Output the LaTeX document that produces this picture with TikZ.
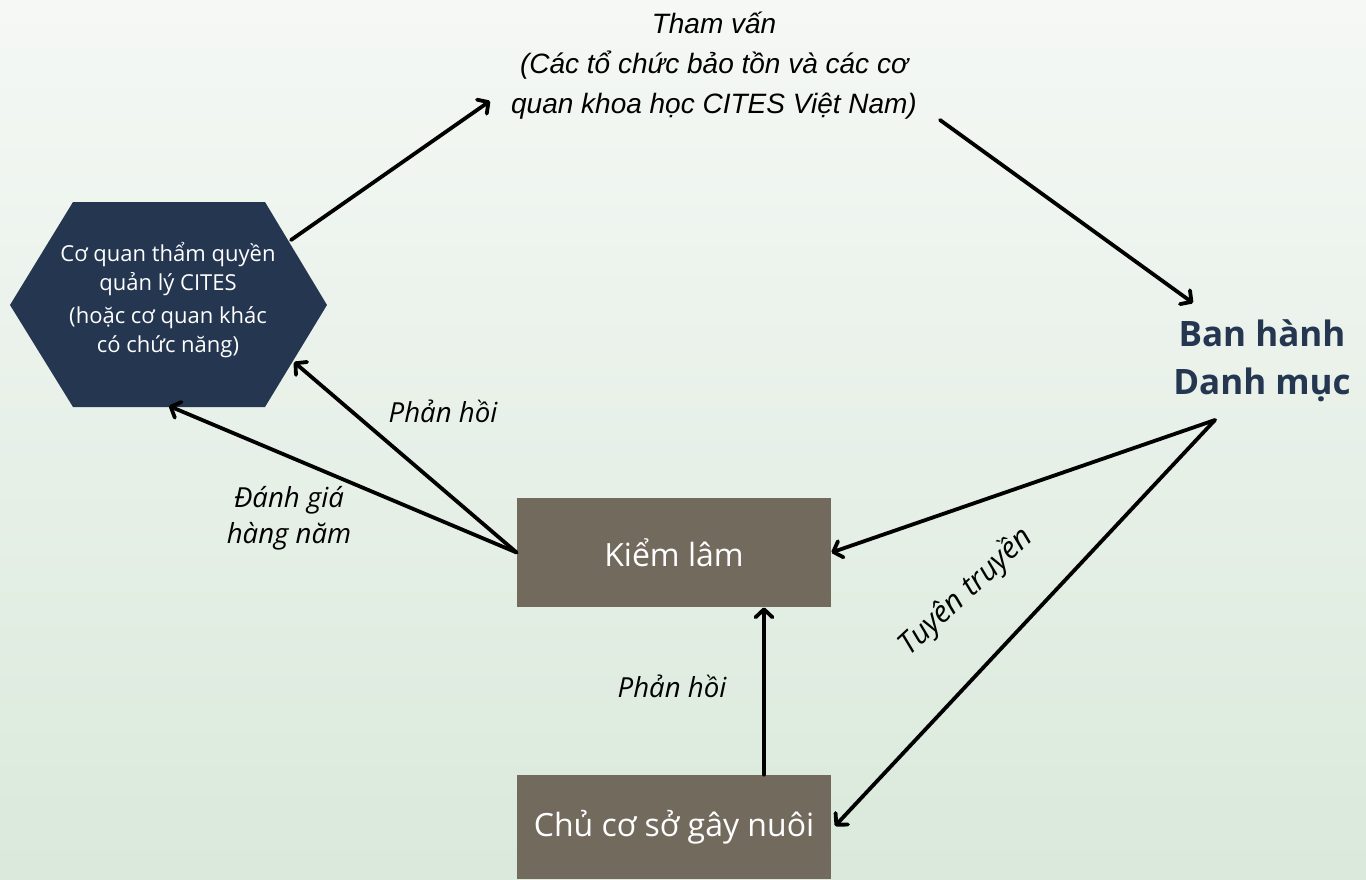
\documentclass[tikz,border=0pt]{standalone}
\usepackage{fontspec}
\setmainfont{Open Sans}
\newfontfamily\arialfont{Liberation Sans}
\usetikzlibrary{arrows.meta,shapes.geometric}
\definecolor{bgtop}{HTML}{F5F8F5}
\definecolor{bgbot}{HTML}{DAE9DB}
\definecolor{navy}{HTML}{243650}
\definecolor{taupe}{HTML}{736A5E}
\tikzset{
  conn/.style={line width=1.9pt, line cap=round, -{Straight Barb[length=4pt,width=8.5pt,line cap=round,line join=round]}},
  lbl/.style={font=\fontsize{13.8}{18}\selectfont\itshape, text=black, align=center},
  boxnode/.style={fill=taupe, text=white, minimum width=157pt, inner sep=0pt, font=\fontsize{16}{18}\selectfont},
}
\begin{document}
\begin{tikzpicture}[x=0.5pt,y=-0.5pt]
\useasboundingbox (0,0) rectangle (1366,879);
\shade[top color=bgtop, bottom color=bgbot] (0,0) rectangle (1366,879);
% hexagon
\fill[navy] (73,202) -- (265,202) -- (327,305) -- (265,407) -- (73,407) -- (10,305) -- cycle;
\node[text=white, align=center, font=\fontsize{11}{14.5}\selectfont] (hex) at (168,300) {Cơ quan thẩm quyền\\quản lý CITES\\[2pt](hoặc cơ quan khác\\có chức năng)};
\coordinate (hexA) at (291,240);
\coordinate (hexB) at (294,362);
\coordinate (hexC) at (169,406);
% boxes
\node[boxnode, minimum height=54.5pt] (kl) at (674,552.5) {Kiểm lâm};
\node[boxnode, minimum height=52pt] (ch) at (674,827) {Chủ cơ sở gây nuôi};
% top text
\node[align=center, font=\arialfont\fontsize{14}{20}\selectfont\itshape] (tv) at (714,66) {Tham vấn\\(Các tổ chức bảo tồn và các cơ\\quan khoa học CITES Việt Nam)};
\coordinate (tvL) at (490,101);
\coordinate (tvR) at (940,120);
% Ban hanh
\node[align=center, text=navy, font=\fontsize{17.5}{24}\selectfont\bfseries] (bh) at (1262,361) {Ban hành\\Danh mục};
\coordinate (bhT) at (1193,303);
\coordinate (bhB) at (1215,420);
% arrows
\draw[conn] (hexA) -- (tvL);
\draw[conn] (tvR) -- (bhT);
\draw[conn] (bhB) -- (kl.east);
\draw[conn] (bhB) -- (835,826) coordinate (chE);
\draw[conn] (kl.west) -- (hexB);
\draw[conn] (kl.west) -- (hexC);
\draw[conn] (ch.north -| 764,0) -- (kl.south -| 764,0);
% labels
\node[lbl] (l1) at (443,411) {Phản hồi};
\node[lbl] (l2) at (289,518) {Đánh giá\\hàng năm};
\node[lbl] (l3) at (672,686) {Phản hồi};
\node[lbl, rotate=43, font=\fontsize{15}{18}\selectfont\itshape] (l4) at (966,592) {Tuyên truyền};
\end{tikzpicture}
\end{document}
